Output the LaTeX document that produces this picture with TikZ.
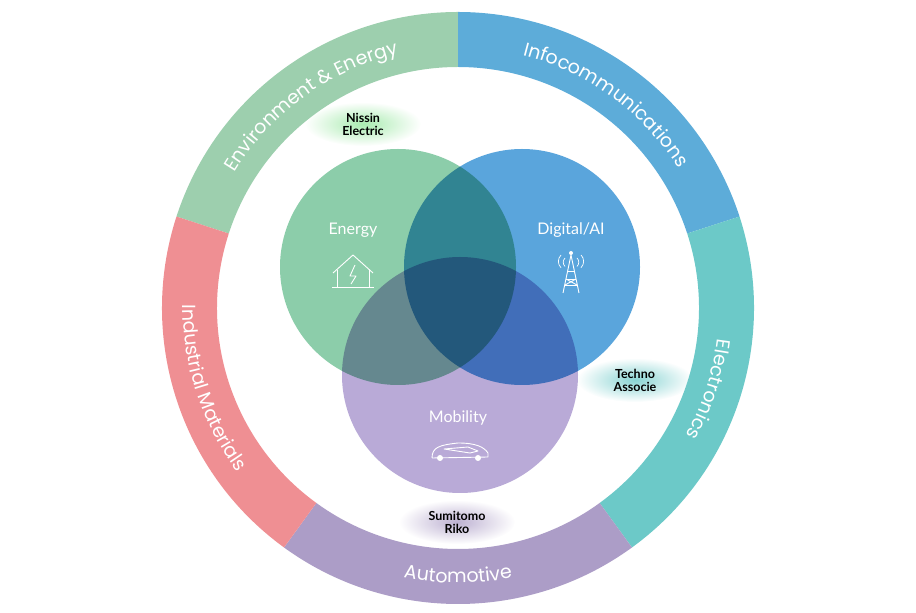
\documentclass[tikz,border=0pt]{standalone}
\usepackage{fontspec}
\setmainfont{Poppins}
\setsansfont{Lato}
\usetikzlibrary{decorations.text,fadings,shapes.geometric}
\definecolor{cEnv}{HTML}{9DCFAE}
\definecolor{cInf}{HTML}{5DACD9}
\definecolor{cEle}{HTML}{6CC9C8}
\definecolor{cAut}{HTML}{AC9DC7}
\definecolor{cInd}{HTML}{EF8F93}
\definecolor{gE}{RGB}{140,205,170}
\definecolor{gD}{RGB}{90,165,220}
\definecolor{gM}{RGB}{185,170,215}
\tikzfading[name=fuzzy, inner color=transparent!0, outer color=transparent!100]
\tikzset{
 ringtxt/.style={decorate, decoration={text along path,
   text={|\fontsize{19}{19}\selectfont\color{white}|#1}, text align=center}},
 vc/.style={circle, minimum size=236pt, inner sep=0pt},
 ctext/.style={text=white, font=\sffamily\fontsize{16}{16}\selectfont},
 comp/.style={font=\sffamily\bfseries\fontsize{12.5}{13}\selectfont, align=center, text=black},
 icon/.style={white, line width=0.9pt, line join=round}
}
\begin{document}
\begin{tikzpicture}[x=1pt,y=1pt]
\useasboundingbox (0,0) rectangle (916,613);
\begin{scope}[shift={(458,305)}]
\fill[cEnv] (162:296) arc (162:90:296) -- (90:241) arc (90:162:241) -- cycle;
\fill[cInf] (90:296) arc (90:18:296) -- (18:241) arc (18:90:241) -- cycle;
\fill[cEle] (18:296) arc (18:-54:296) -- (-54:241) arc (-54:18:241) -- cycle;
\fill[cAut] (-54:296) arc (-54:-126:296) -- (-126:241) arc (-126:-54:241) -- cycle;
\fill[cInd] (-126:296) arc (-126:-198:296) -- (-198:241) arc (-198:-126:241) -- cycle;
\path[ringtxt={Environment {\&} Energy}] (162:261) arc (162:90:261);
\path[ringtxt={Infocommunications}] (90:261) arc (90:18:261);
\path[ringtxt={Electronics}] (18:261) arc (18:-54:261);
\path[ringtxt={Automotive}] (-126:275) arc (-126:-54:275);
\path[ringtxt={Industrial Materials}] (162:275) arc (162:234:275);
\end{scope}
% venn
\begin{scope}[blend group=multiply]
\node[vc, fill=gE] (en) at (398,346) {};
\node[vc, fill=gD] (di) at (522,346) {};
\node[vc, fill=gM] (mo) at (460,238) {};
\end{scope}
\node[ctext] (tEn) at (353,383) {Energy};
\node[ctext] (tDi) at (571,383) {Digital/AI};
\node[ctext] (tMo) at (458,195) {Mobility};
% house icon
\draw[icon] (333,340) -- (353,358) -- (373,340);
\draw[icon] (337,343) -- (337,326) -- (369,326) -- (369,343);
\draw[icon] (332,326) -- (374,326);
\draw[icon] (355,348) -- (350,337) -- (356,337) -- (351,329);
% tower icon
\draw[icon] (563,320) -- (571,358) -- (579,320);
\draw[icon] (566,334) -- (576,334) (565,328) -- (577,328) (567,342) -- (575,342);
\draw[icon] (566,334) -- (577,328) (576,334) -- (565,328);
\fill[white] (571,360) circle (2pt);
\draw[icon, line width=0.7pt] (565,355) arc (135:225:6) (577,355) arc (45:-45:6);
\draw[icon, line width=0.7pt] (561,358) arc (135:225:9) (581,358) arc (45:-45:9);
% car icon
\draw[icon] (432,155) .. controls (432,166) and (440,168) .. (458,170) .. controls (476,170) and (484,166) .. (488,160) -- (488,156) -- (432,155);
\draw[icon] (444,164) -- (468,166) -- (478,162) -- (470,160) -- cycle;
\fill[white] (440,155) circle (3pt) (478,155) circle (3pt);
% companies
\fill[cEnv!70!green!60!white, path fading=fuzzy] (363,489) ellipse (58 and 22);
\fill[cEle!80!white, path fading=fuzzy] (635,233) ellipse (58 and 22);
\fill[cAut!80!white, path fading=fuzzy] (457,91) ellipse (58 and 22);
\node[comp] (n1) at (363,489) {Nissin\\Electric};
\node[comp] (n2) at (635,233) {Techno\\Associe};
\node[comp] (n3) at (457,91) {Sumitomo\\Riko};
\end{tikzpicture}
\end{document}
